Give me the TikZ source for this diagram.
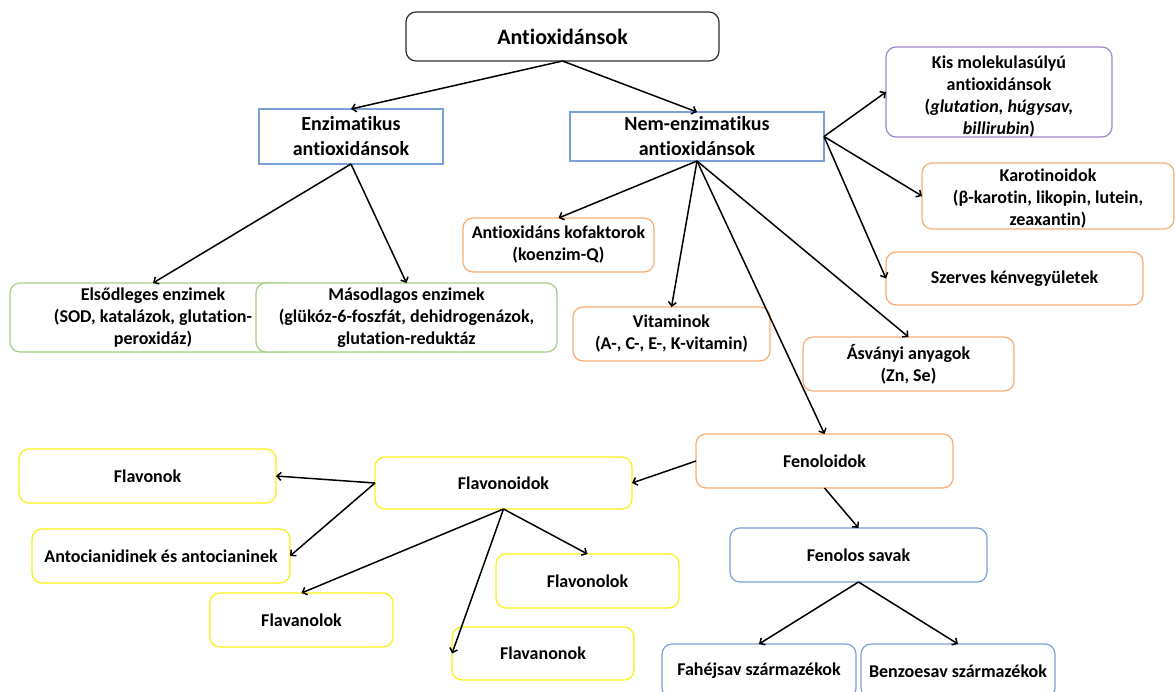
\documentclass[tikz,border=0pt]{standalone}
\usepackage{fontspec}
\setmainfont{Carlito}[Ligatures=NoCommon]
\usetikzlibrary{arrows.meta}
\definecolor{cblue}{RGB}{122,160,215}
\definecolor{corange}{RGB}{247,172,116}
\definecolor{cgreen}{RGB}{166,206,136}
\definecolor{cyellow}{RGB}{248,242,20}
\definecolor{cpurple}{RGB}{160,134,200}
\definecolor{cdark}{RGB}{45,45,45}
\begin{document}
\begin{tikzpicture}[x=1pt,y=-1pt,
  base/.style={draw, fill=white, line width=1.2pt, inner sep=0pt, outer sep=0pt,
    align=center, font=\fontsize{18}{22}\selectfont\bfseries},
  rbox/.style={base, rounded corners=10pt},
  sbox/.style={base, draw=cblue, font=\fontsize{20}{25}\selectfont\bfseries},
  obox/.style={rbox, draw=corange},
  gbox/.style={rbox, draw=cgreen},
  ybox/.style={rbox, draw=cyellow},
  bbox/.style={rbox, draw=cblue},
  pbox/.style={rbox, draw=cpurple},
  arr/.style={line width=1.5pt, draw=black, -{Straight Barb[length=4pt,width=8pt]}}
]
\useasboundingbox (0,0) rectangle (1175,691);

\node[rbox, draw=cdark, minimum width=313pt, minimum height=49pt,
  font=\fontsize{22}{27}\selectfont\bfseries] (root) at (562.5,36.5) {Antioxidánsok};

\node[sbox, minimum width=184pt, minimum height=55pt] (enz) at (351,136.5) {Enzimatikus\\antioxidánsok};
\node[sbox, minimum width=254pt, minimum height=49pt] (nem) at (697,136.5) {Nem-enzimatikus\\antioxidánsok};

\node[pbox, minimum width=226pt, minimum height=90pt] (kis) at (999,92)
  {\rule{0pt}{21pt}Kis molekulasúlyú\\antioxidánsok\\(\textit{glutation, húgysav,}\\\textit{billirubin})};
\node[obox, minimum width=252pt, minimum height=66pt] (karo) at (1048,196)
  {\rule{0pt}{17pt}Karotinoidok\\(β-karotin, likopin, lutein,\\zeaxantin)};
\node[obox, minimum width=191pt, minimum height=54pt] (kof) at (558.5,245)
  {Antioxidáns kofaktorok\\(koenzim-Q)};
\node[obox, minimum width=257pt, minimum height=53pt] (szer) at (1014.5,278.5)
  {Szerves kénvegyületek};
\node[obox, minimum width=197pt, minimum height=54pt] (vit) at (671.5,334)
  {Vitaminok\\(A-, C-, E-, K-vitamin)};
\node[obox, minimum width=211pt, minimum height=54pt] (asv) at (908.5,364)
  {Ásványi anyagok\\(Zn, Se)};

\node[gbox, minimum width=286pt, minimum height=69pt] (elso) at (153,317.5)
  {Elsődleges enzimek\\(SOD, katalázok, glutation-\\peroxidáz)};
\node[gbox, minimum width=301pt, minimum height=69pt] (maso) at (406.5,317.5)
  {Másodlagos enzimek\\(glükóz-6-foszfát, dehidrogenázok,\\glutation-reduktáz};

\node[obox, minimum width=257pt, minimum height=54pt] (fenol) at (824.5,461) {Fenoloidok};
\node[ybox, minimum width=257pt, minimum height=52pt] (flavd) at (503.5,483) {Flavonoidok};
\node[ybox, minimum width=257pt, minimum height=54pt] (flavk) at (147.5,476) {Flavonok};
\node[ybox, minimum width=258pt, minimum height=54pt] (anto) at (161,556) {Antocianidinek és antocianinek};
\node[ybox, minimum width=183pt, minimum height=54pt] (flavl) at (301.5,620) {Flavanolok};
\node[ybox, minimum width=183pt, minimum height=54pt] (flavnol) at (587.5,581) {Flavonolok};
\node[ybox, minimum width=182pt, minimum height=53pt] (flavnon) at (543,653.5) {Flavanonok};

\node[bbox, minimum width=257pt, minimum height=54pt] (fsav) at (858.5,555) {Fenolos savak};
\node[bbox, minimum width=194pt, minimum height=54pt] (fahej) at (759,671) {Fahéjsav származékok};
\node[bbox, minimum width=194pt, minimum height=54pt] (benzo) at (958,671) {Benzoesav származékok};

\draw[arr] (root.south) -- (enz.north);
\draw[arr] (root.south) -- (nem.north);
\draw[arr] (enz.south) -- (elso.north);
\draw[arr] (enz.south) -- (maso.north);
\draw[arr] (nem.east) -- (kis.west);
\draw[arr] (nem.east) -- (karo.west);
\draw[arr] (nem.east) -- (szer.west);
\draw[arr] (nem.south) -- (kof.north);
\draw[arr] (nem.south) -- (vit.north);
\draw[arr] (nem.south) -- (asv.north);
\draw[arr] (nem.south) -- (fenol.north);
\draw[arr] (fenol.west) -- (flavd.east);
\draw[arr] (fenol.south) -- (fsav.north);
\draw[arr] (fsav.south) -- (fahej.north);
\draw[arr] (fsav.south) -- (benzo.north);
\draw[arr] (flavd.west) -- (flavk.east);
\draw[arr] (flavd.west) -- (anto.east);
\draw[arr] (flavd.south) -- (flavl.north);
\draw[arr] (flavd.south) -- (flavnon.west);
\draw[arr] (flavd.south) -- (flavnol.north);
\end{tikzpicture}
\end{document}
